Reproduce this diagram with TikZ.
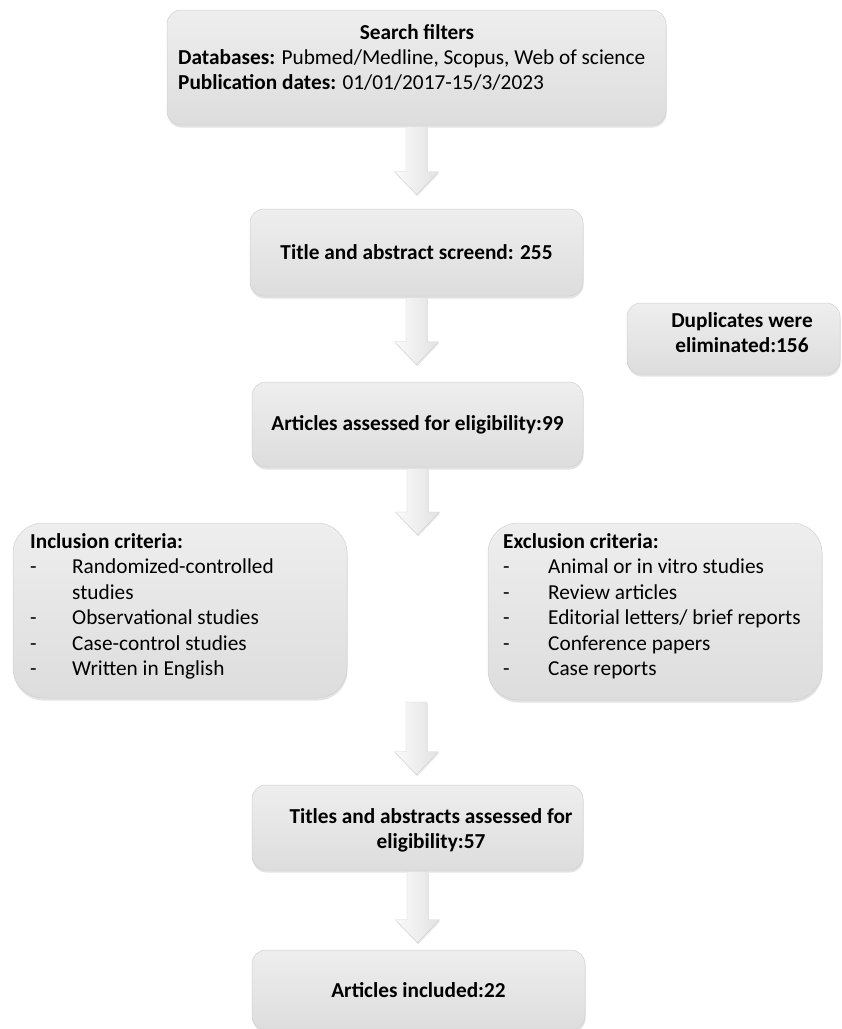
\documentclass[tikz,border=0pt]{standalone}
\usepackage{fontspec}
\setmainfont{Carlito}
\usetikzlibrary{shadows,calc}
\definecolor{boxtop}{HTML}{EEEEEE}
\definecolor{boxbot}{HTML}{DDDDDD}
\definecolor{boxline}{HTML}{D0D0D0}
\definecolor{arrL}{HTML}{FAFAFA}
\definecolor{arrR}{HTML}{E2E2E2}
\tikzset{
  flowbox/.style={rounded corners=14pt, top color=boxtop, bottom color=boxbot,
    draw=boxline, line width=0.5pt, inner sep=0pt,
    drop shadow={shadow xshift=0.5pt, shadow yshift=-2.5pt, opacity=0.22}},
  bigbox/.style={flowbox, rounded corners=30pt},
  txt/.style={inner sep=0pt, font=\fontsize{21.3}{25.5}\selectfont},
  btxt/.style={txt, font=\fontsize{21.3}{25.5}\selectfont\bfseries},
  blockarr/.style={left color=arrL, right color=arrR, draw=boxline, line width=0.4pt,
    drop shadow={shadow xshift=0.8pt, shadow yshift=-1.5pt, opacity=0.18}}
}
% #1 start node anchor, #2 target anchor, #3 gap before target
\newcommand\blkarrow[3]{%
  \path[blockarr] let \p1=(#1), \p2=(#2) in
    (\x1-10.5pt,\y1-1pt) -- (\x1+10.5pt,\y1-1pt) -- (\x1+10.5pt,\y2+#3+23pt)
    -- (\x1+22pt,\y2+#3+23pt) -- (\x1,\y2+#3) -- (\x1-22pt,\y2+#3+23pt)
    -- (\x1-10.5pt,\y2+#3+23pt) -- cycle;}
\begin{document}
\begin{tikzpicture}[x=1pt,y=-1pt]
\useasboundingbox (0,0) rectangle (842,1029);

% boxes
\node[flowbox, minimum width=499pt, minimum height=115pt] (b1) at (416.5,67.5) {};
\node[btxt, anchor=base] (t1a) at (417,39) {Search filters};
\node[txt, anchor=base west] (t1b) at (178,64) {\textbf{Databases:} Pubmed/Medline, Scopus, Web of science};
\node[txt, anchor=base west] (t1c) at (178,89) {\textbf{Publication dates:} 01/01/2017-15/3/2023};

\node[flowbox, btxt, minimum width=333pt, minimum height=87pt] (b2) at (416.5,252.5) {Title and abstract screend: 255};

\node[flowbox, minimum width=213pt, minimum height=71pt] (dup) at (733.5,338.5) {};
\node[btxt, anchor=base] (duptxt) at (742,327) {\begin{tabular}[t]{@{}c@{}}Duplicates were\\ eliminated:156\end{tabular}};

\node[flowbox, btxt, minimum width=331pt, minimum height=85pt] (b3) at (417.5,424.5) {Articles assessed for eligibility:99};

\node[bigbox, minimum width=334pt, minimum height=175pt] (inc) at (180,610.5) {};
\node[txt, anchor=base west] (inctxt) at (30,548) {\begin{tabular}[t]{@{}p{42pt}@{}l@{}}
\multicolumn{2}{@{}l@{}}{\textbf{Inclusion criteria:}}\\
-& Randomized-controlled\\
 & studies\\
-& Observational studies\\
-& Case-control studies\\
-& Written in English
\end{tabular}};

\node[bigbox, minimum width=334pt, minimum height=177pt] (exc) at (655,611.5) {};
\node[txt, anchor=base west] (exctxt) at (503,548) {\begin{tabular}[t]{@{}p{45pt}@{}l@{}}
\multicolumn{2}{@{}l@{}}{\textbf{Exclusion criteria:}}\\
-& Animal or in vitro studies\\
-& Review articles\\
-& Editorial letters/ brief reports\\
-& Conference papers\\
-& Case reports
\end{tabular}};

\node[flowbox, minimum width=331pt, minimum height=85pt] (b4) at (417.5,827.5) {};
\node[btxt, anchor=base] (b4txt) at (431,823) {\begin{tabular}[t]{@{}c@{}}Titles and abstracts assessed for\\ eligibility:57\end{tabular}};

\node[flowbox, btxt, minimum width=333pt, minimum height=80pt] (b5) at (418.5,990) {Articles included:22};

% arrows
\coordinate (tip3) at (416.5,535);
\coordinate (start4) at (416.5,701);
\blkarrow{b1.south}{b2.north}{14pt}
\blkarrow{b2.south}{b3.north}{17pt}
\blkarrow{b3.south}{tip3}{0pt}
\blkarrow{start4}{b4.north}{10pt}
\blkarrow{b4.south}{b5.north}{7pt}
\end{tikzpicture}
\end{document}
